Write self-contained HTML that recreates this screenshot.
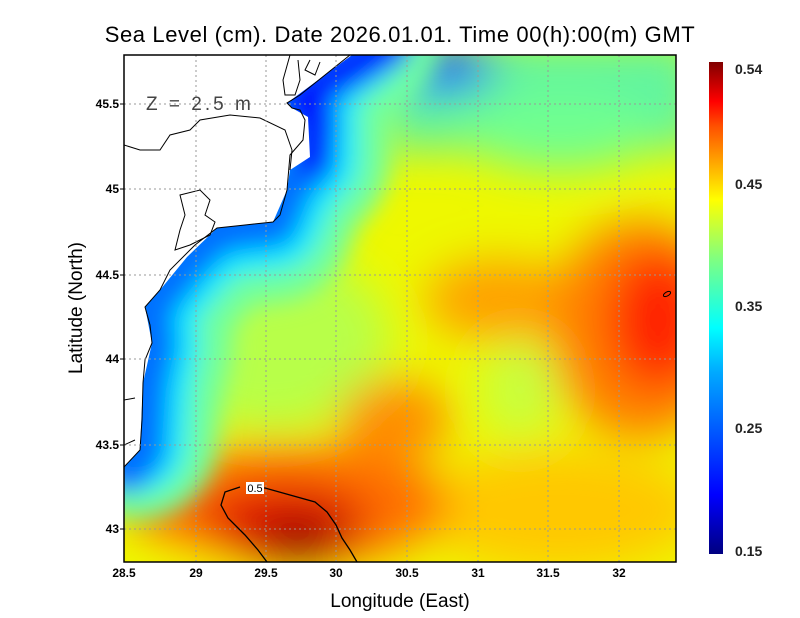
<!DOCTYPE html>
<html><head><meta charset="utf-8"><style>
html,body{margin:0;padding:0;background:#fff;}
svg{display:block;font-family:"Liberation Sans",sans-serif;}
</style></head><body>
<svg width="800" height="618" viewBox="0 0 800 618">
<defs>
<clipPath id="pc"><rect x="124" y="55" width="552" height="507"/></clipPath>
<filter id="b1" x="-50%" y="-50%" width="200%" height="200%"><feGaussianBlur stdDeviation="22"/></filter>
<filter id="b2" x="-50%" y="-50%" width="200%" height="200%"><feGaussianBlur stdDeviation="12"/></filter>
<linearGradient id="cb" x1="0" y1="1" x2="0" y2="0">
<stop offset="0" stop-color="#000080"/><stop offset="0.12" stop-color="#0000ff"/>
<stop offset="0.37" stop-color="#00aaff"/><stop offset="0.46" stop-color="#00ffff"/>
<stop offset="0.6" stop-color="#80ff80"/><stop offset="0.72" stop-color="#ffff00"/>
<stop offset="0.87" stop-color="#ff5000"/><stop offset="0.92" stop-color="#ff0000"/>
<stop offset="1" stop-color="#800000"/></linearGradient>
</defs>
<g clip-path="url(#pc)">
<rect x="100" y="40" width="600" height="540" fill="#eef800"/>
<g filter="url(#b1)">
<ellipse cx="270" cy="340" rx="120" ry="90" fill="#b8ff48"/>
<rect x="380" y="40" width="320" height="110" fill="#60f4a0"/>
<ellipse cx="440" cy="68" rx="55" ry="22" fill="#0030ff"/>
<ellipse cx="560" cy="130" rx="100" ry="40" fill="#70ff90"/>
<ellipse cx="520" cy="390" rx="40" ry="50" fill="#c8ff40"/>
<ellipse cx="500" cy="300" rx="75" ry="40" fill="#ffa000"/>
<ellipse cx="640" cy="330" rx="90" ry="110" fill="#ff8000"/>
<ellipse cx="658" cy="320" rx="50" ry="70" fill="#ff2000"/>
<ellipse cx="395" cy="420" rx="55" ry="40" fill="#ff8c00"/>
<ellipse cx="560" cy="510" rx="140" ry="60" fill="#ffc800"/>
<ellipse cx="290" cy="505" rx="160" ry="60" fill="#ff7000"/>
<ellipse cx="285" cy="520" rx="85" ry="35" fill="#e00000"/>
<ellipse cx="300" cy="540" rx="45" ry="22" fill="#900000"/>
<ellipse cx="195" cy="568" rx="35" ry="12" fill="#f0ff00"/>
</g>
<g filter="url(#b2)" fill="none" stroke-linejoin="round" stroke-linecap="round">
<polyline points="360,40 287,100 310,117 310,160 290,180 273,222 217,228 187,257 160,290 145,307 152,343 143,383 138,440" stroke="#70ffa0" stroke-width="160"/>
<polyline points="360,40 287,100 310,117 310,160 290,180 273,222 217,228 187,257 160,290 145,307 152,343 143,383 138,445" stroke="#00e8ff" stroke-width="95"/>
<polyline points="360,40 287,100 310,117 310,160 290,180 273,222 217,228 187,257 160,290 145,307 152,343 143,383 140,450 126,467" stroke="#0070ff" stroke-width="50"/>
<polyline points="395,45 300,100 320,117 315,160" stroke="#0010ff" stroke-width="35"/>
</g>
<polygon points="124,55 352,55 287,103 292,108 308,117 310,157 290,170 287,190 273,222 217,228 187,257 160,290 145,307 152,343 143,383 140,450 124,467" fill="#fff"/>
<g fill="none" stroke="#000" stroke-width="1">
<polyline points="350,55 300,95 287,103 292,108 300,110 305,120 303,140 290,155 287,190 280,215 273,222 245,225 217,228 195,245 170,270 160,290 145,307 150,325 152,343 145,360 143,383 142,420 140,450 124,467"/>
<path d="M124,145 L140,150 L160,150 L170,135 L190,130 L200,120 L230,115 L260,118 L285,130 L292,150 L290,170"/>
<path d="M290,55 L283,80 L285,95 L295,95 L300,80 L298,60 M310,60 L305,70 L315,75 L320,62"/>
<path d="M180,195 L200,190 L210,200 L205,215 L215,222 L210,235 L190,245 L175,250 L180,230 L185,215 Z"/>
<path d="M124,400 L135,398 M124,445 L135,440"/>
</g>
<g stroke="#999" stroke-width="1" stroke-dasharray="2,3">
<line x1="196" y1="55" x2="196" y2="562"/><line x1="266" y1="55" x2="266" y2="562"/>
<line x1="336" y1="55" x2="336" y2="562"/><line x1="407" y1="55" x2="407" y2="562"/>
<line x1="478" y1="55" x2="478" y2="562"/><line x1="548" y1="55" x2="548" y2="562"/>
<line x1="619" y1="55" x2="619" y2="562"/>
<line x1="124" y1="104" x2="676" y2="104"/><line x1="124" y1="189" x2="676" y2="189"/>
<line x1="124" y1="275" x2="676" y2="275"/><line x1="124" y1="359" x2="676" y2="359"/>
<line x1="124" y1="445" x2="676" y2="445"/><line x1="124" y1="529" x2="676" y2="529"/>
</g>
<path d="M247,488 L265,488 L290,495 L315,502 L327,512 L336,525 L342,538 L350,550 L357,562 M267,562 L258,550 L245,535 L228,518 L221,505 L225,492 L240,487" fill="none" stroke="#000" stroke-width="1.3"/>
<ellipse cx="667" cy="294" rx="4" ry="2" fill="none" stroke="#000" stroke-width="1" transform="rotate(-30 667 294)"/>
<rect x="246" y="482" width="18" height="12" fill="#fff"/>
<text x="255" y="492" font-size="11" text-anchor="middle">0.5</text>
<text x="146" y="110" font-size="19" fill="#444" letter-spacing="3">Z = 2.5 m</text>
</g>
<rect x="124" y="55" width="552" height="507" fill="none" stroke="#000" stroke-width="1.5"/>
<g font-size="12" font-weight="bold" text-anchor="middle">
<text x="124" y="577">28.5</text><text x="196" y="577">29</text><text x="266" y="577">29.5</text>
<text x="336" y="577">30</text><text x="407" y="577">30.5</text><text x="478" y="577">31</text>
<text x="548" y="577">31.5</text><text x="619" y="577">32</text>
</g>
<g font-size="12" font-weight="bold" text-anchor="end">
<text x="119" y="108">45.5</text><text x="119" y="193">45</text><text x="119" y="279">44.5</text>
<text x="119" y="363">44</text><text x="119" y="449">43.5</text><text x="119" y="533">43</text>
</g>
<g stroke="#000"><line x1="120" y1="104" x2="124" y2="104"/><line x1="120" y1="189" x2="124" y2="189"/><line x1="120" y1="275" x2="124" y2="275"/><line x1="120" y1="359" x2="124" y2="359"/><line x1="120" y1="445" x2="124" y2="445"/><line x1="120" y1="529" x2="124" y2="529"/></g>
<text x="400" y="607" font-size="19" text-anchor="middle">Longitude (East)</text>
<text transform="translate(82 308) rotate(-90)" font-size="19" text-anchor="middle">Latitude (North)</text>
<text x="400" y="42" font-size="22" text-anchor="middle" letter-spacing="0.6">Sea Level (cm). Date 2026.01.01. Time 00(h):00(m) GMT</text>
<rect x="709" y="62" width="14" height="492" fill="url(#cb)"/>
<g font-size="14" font-weight="bold" fill="#222">
<text x="735" y="74">0.54</text><text x="735" y="189">0.45</text><text x="735" y="311">0.35</text>
<text x="735" y="433">0.25</text><text x="735" y="556">0.15</text>
</g>
</svg>
</body></html>
